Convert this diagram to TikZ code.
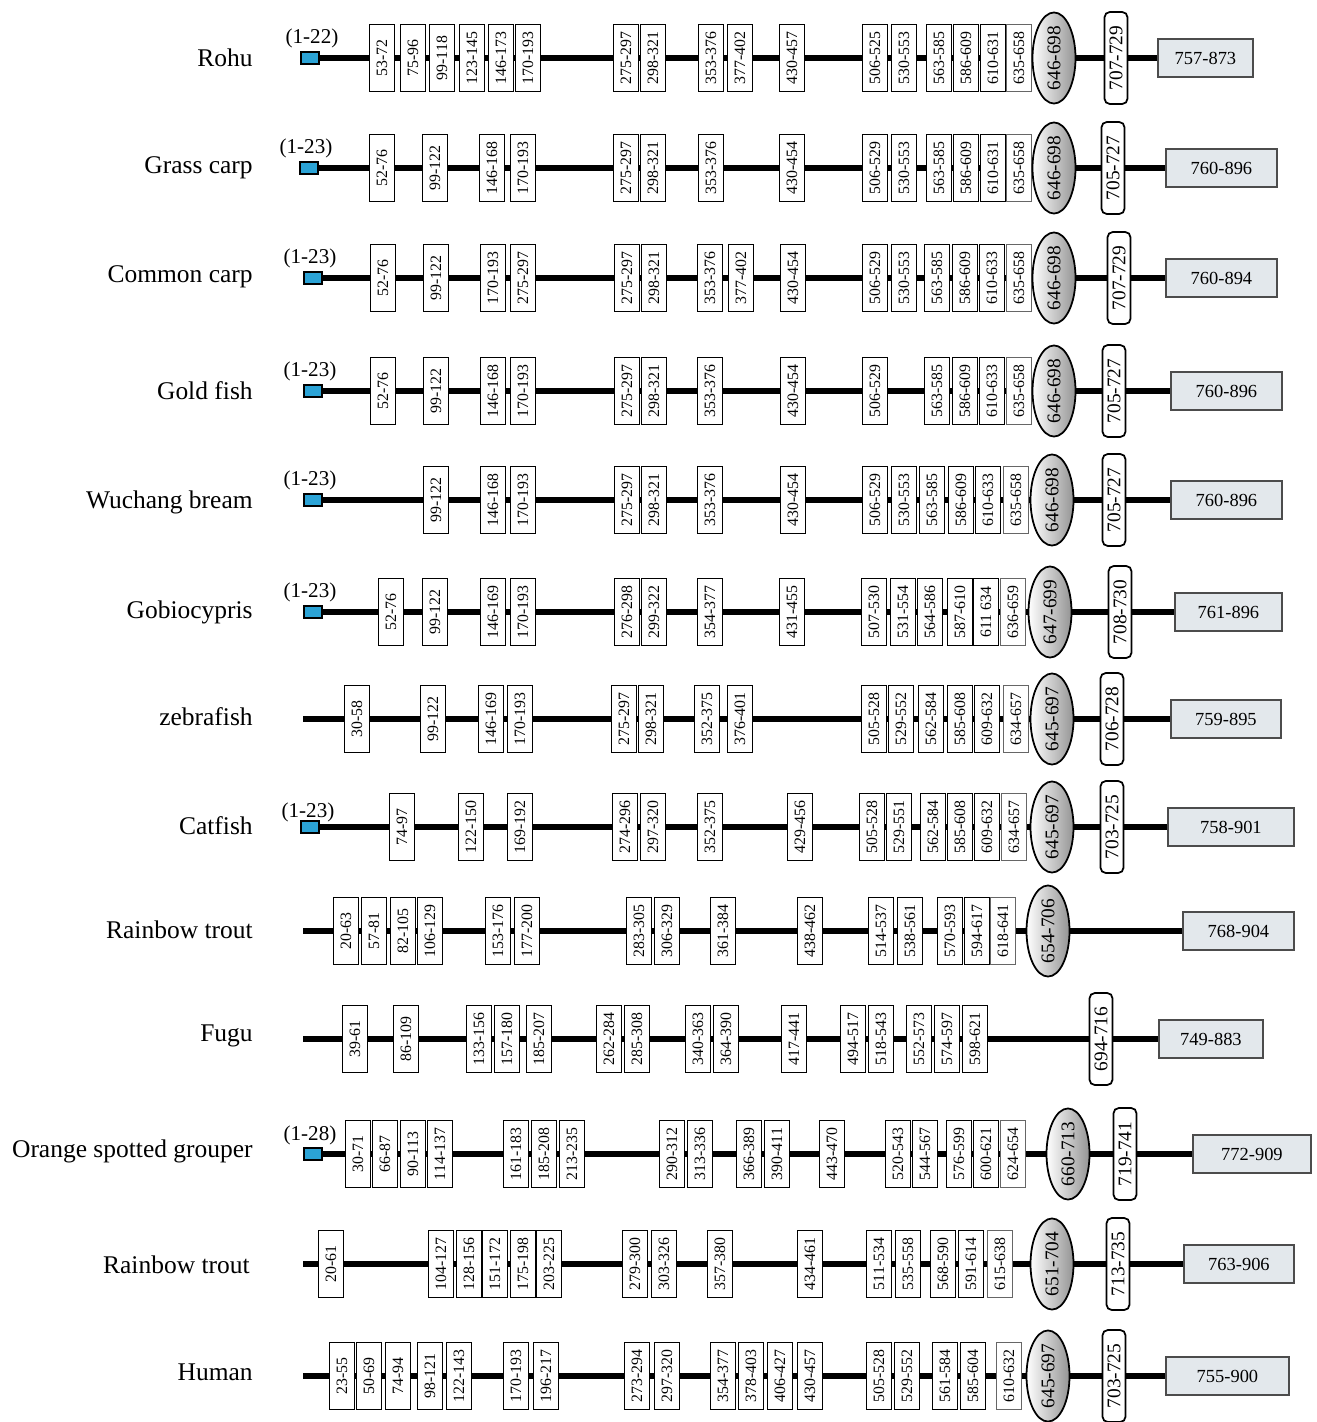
\documentclass[tikz,border=0pt]{standalone}
\usepackage{fontspec}
\setmainfont{Liberation Serif}
\usetikzlibrary{shapes.geometric,backgrounds}
\definecolor{sigblue}{HTML}{2BA3D6}
\definecolor{tailgray}{HTML}{E3E8EC}

\begin{document}
\begin{tikzpicture}[x=0.02cm, y=-0.02cm,
  species/.style={anchor=east, font=\fontsize{14.5}{16}\selectfont, inner sep=0pt},
  sigpep/.style={draw, fill=sigblue, line width=1pt, minimum width=0.36cm,
               minimum height=0.24cm, inner sep=0pt},
  pep/.style={font=\fontsize{12}{14}\selectfont, inner sep=0pt},
  seg/.style={draw, fill=white, line width=1.1pt, rotate=90, minimum width=1.34cm,
               minimum height=0.5cm, inner sep=0pt, font=\fontsize{9}{10}\selectfont},
  lastseg/.style={seg, draw=black!60, line width=0.8pt},
  tm/.style={ellipse, draw, line width=1pt, rotate=90, minimum width=1.8cm,
               minimum height=0.86cm, inner sep=0pt, left color=white,
               middle color=black!8, right color=black!42,
               font=\fontsize{11}{12}\selectfont},
  cyto/.style={draw, fill=white, rounded corners=3pt, line width=1pt, rotate=90,
               minimum width=1.84cm, minimum height=0.46cm, inner sep=0pt,
               font=\fontsize{11}{12}\selectfont},
  ctail/.style={draw=black!70, fill=tailgray, line width=1.1pt, anchor=west,
               minimum height=0.76cm, inner sep=0pt, font=\fontsize{10.5}{12}\selectfont},
  bb/.style={line width=3.3pt},
]
\useasboundingbox (0,0) rectangle (1317,1422);

% Rohu
\node[species] (n1) at (253,58) {Rohu};
\node[sigpep] (p1) at (310,58) {};
\node[pep] (t1) at (312,38) {(1-22)};
\foreach \x/\t [count=\k] in {382/53-72, 413/75-96, 442/99-118, 472/123-145,
    501/146-173, 528/170-193, 626/275-297, 653/298-321, 711/353-376, 740/377-402,
    792/430-457, 875/506-525, 904/530-553, 939/563-585, 966/586-609, 993/610-631}
  \node[seg] (s1-\k) at (\x,58) {\t};
\node[lastseg] (l1) at (1019,58) {635-658};
\node[tm] (e1) at (1054,58) {646-698};
\node[cyto] (c1) at (1116,58) {707-729};
\node[ctail, minimum width=1.9cm] (g1) at (1157,58) {757-873};

% Grass carp
\node[species] (n2) at (253,168) {Grass carp};
\node[sigpep] (p2) at (309,168) {};
\node[pep] (t2) at (306,148) {(1-23)};
\foreach \x/\t [count=\k] in {382/52-76, 435/99-122, 492/146-168, 523/170-193,
    626/275-297, 653/298-321, 711/353-376, 792/430-454, 875/506-529, 904/530-553,
    939/563-585, 966/586-609, 993/610-631}
  \node[seg] (s2-\k) at (\x,168) {\t};
\node[lastseg] (l2) at (1019,168) {635-658};
\node[tm] (e2) at (1054,168) {646-698};
\node[cyto] (c2) at (1113,168) {705-727};
\node[ctail, minimum width=2.22cm] (g2) at (1165,168) {760-896};

% Common carp
\node[species] (n3) at (253,277) {Common carp};
\node[sigpep] (p3) at (313,278) {};
\node[pep] (t3) at (310,258) {(1-23)};
\foreach \x/\t [count=\k] in {383/52-76, 436/99-122, 493/170-193, 523/275-297,
    627/275-297, 654/298-321, 710/353-376, 741/377-402, 793/430-454, 875/506-529,
    904/530-553, 937/563-585, 965/586-609, 992/610-633}
  \node[seg] (s3-\k) at (\x,278) {\t};
\node[lastseg] (l3) at (1019,278) {635-658};
\node[tm] (e3) at (1054,278) {646-698};
\node[cyto] (c3) at (1119,278) {707-729};
\node[ctail, minimum width=2.22cm] (g3) at (1165,278) {760-894};

% Gold fish
\node[species] (n4) at (253,391) {Gold fish};
\node[sigpep] (p4) at (313,391) {};
\node[pep] (t4) at (310,371) {(1-23)};
\foreach \x/\t [count=\k] in {383/52-76, 436/99-122, 493/146-168, 523/170-193,
    627/275-297, 654/298-321, 710/353-376, 793/430-454, 875/506-529,
    937/563-585, 965/586-609, 992/610-633}
  \node[seg] (s4-\k) at (\x,391) {\t};
\node[lastseg] (l4) at (1019,391) {635-658};
\node[tm] (e4) at (1054,391) {646-698};
\node[cyto] (c4) at (1114,391) {705-727};
\node[ctail, minimum width=2.22cm] (g4) at (1170,391) {760-896};

% Wuchang bream
\node[species] (n5) at (253,502) {Wuchang bream};
\node[sigpep] (p5) at (313,500) {};
\node[pep] (t5) at (310,480) {(1-23)};
\foreach \x/\t [count=\k] in {436/99-122, 493/146-168, 523/170-193,
    627/275-297, 654/298-321, 710/353-376, 793/430-454, 875/506-529, 904/530-553,
    932/563-585, 961/586-609, 988/610-633}
  \node[seg] (s5-\k) at (\x,500) {\t};
\node[lastseg] (l5) at (1016,500) {635-658};
\node[tm] (e5) at (1052,500) {646-698};
\node[cyto] (c5) at (1114,500) {705-727};
\node[ctail, minimum width=2.22cm] (g5) at (1170,500) {760-896};

% Gobiocypris
\node[species] (n6) at (253,612) {Gobiocypris};
\node[sigpep] (p6) at (313,612) {};
\node[pep] (t6) at (310,592) {(1-23)};
\foreach \x/\t [count=\k] in {391/52-76, 435/99-122, 493/146-169, 523/170-193,
    627/276-298, 654/299-322, 710/354-377, 792/431-455, 874/507-530, 903/531-554,
    930/564-586, 960/587-610, 986/611 634}
  \node[seg] (s6-\k) at (\x,612) {\t};
\node[lastseg] (l6) at (1013,612) {636-659};
\node[tm] (e6) at (1050,612) {647-699};
\node[cyto] (c6) at (1120,612) {708-730};
\node[ctail, minimum width=2.14cm] (g6) at (1174,612) {761-896};

% zebrafish
\node[species] (n7) at (253,717) {zebrafish};
\coordinate (p7) at (303,719);
\foreach \x/\t [count=\k] in {357/30-58, 433/99-122, 491/146-169, 520/170-193,
    624/275-297, 651/298-321, 707/352-375, 740/376-401, 874/505-528, 901/529-552,
    931/562-584, 960/585-608, 987/609-632}
  \node[seg] (s7-\k) at (\x,719) {\t};
\node[lastseg] (l7) at (1016,719) {634-657};
\node[tm] (e7) at (1052,719) {645-697};
\node[cyto] (c7) at (1112,719) {706-728};
\node[ctail, minimum width=2.2cm] (g7) at (1170,719) {759-895};

% Catfish
\node[species] (n8) at (253,826) {Catfish};
\node[sigpep] (p8) at (310,827) {};
\node[pep] (t8) at (308,812) {(1-23)};
\foreach \x/\t [count=\k] in {402/74-97, 471/122-150, 520/169-192,
    625/274-296, 653/297-320, 710/352-375, 800/429-456, 872/505-528, 899/529-551,
    933/562-584, 960/585-608, 987/609-632}
  \node[seg] (s8-\k) at (\x,827) {\t};
\node[lastseg] (l8) at (1014,827) {634-657};
\node[tm] (e8) at (1052,827) {645-697};
\node[cyto] (c8) at (1112,827) {703-725};
\node[ctail, minimum width=2.52cm] (g8) at (1167,827) {758-901};

% Rainbow trout
\node[species] (n9) at (253,930) {Rainbow trout};
\coordinate (p9) at (303,931);
\foreach \x/\t [count=\k] in {346/20-63, 374/57-81, 403/82-105, 430/106-129,
    498/153-176, 527/177-200, 639/283-305, 667/306-329, 723/361-384, 810/438-462,
    881/514-537, 910/538-561, 950/570-593, 977/594-617}
  \node[seg] (s9-\k) at (\x,931) {\t};
\node[lastseg] (l9) at (1003,931) {618-641};
\node[tm] (e9) at (1048,931) {654-706};
\node[ctail, minimum width=2.22cm] (g9) at (1182,931) {768-904};

% Fugu
\node[species] (n10) at (253,1036) {Fugu};
\coordinate (p10) at (303,1039);
\foreach \x/\t [count=\k] in {355/39-61, 406/86-109, 479/133-156, 507/157-180,
    539/185-207, 609/262-284, 637/285-308, 698/340-363, 726/364-390, 794/417-441,
    853/494-517, 881/518-543, 919/552-573, 947/574-597, 975/598-621}
  \node[seg] (s10-\k) at (\x,1039) {\t};
\node[cyto] (c10) at (1101,1039) {694-716};
\node[ctail, minimum width=2.08cm] (g10) at (1158,1039) {749-883};

% Orange spotted grouper
\node[species] (n11) at (253,1151) {Orange spotted grouper};
\node[sigpep] (p11) at (313,1154) {};
\node[pep] (t11) at (310,1135) {(1-28)};
\foreach \x/\t [count=\k] in {358/30-71, 385/66-87, 413/90-113, 440/114-137,
    516/161-183, 544/185-208, 572/213-235, 672/290-312, 700/313-336, 749/366-389,
    777/390-411, 832/443-470, 898/520-543, 925/544-567, 959/576-599, 986/600-621}
  \node[seg] (s11-\k) at (\x,1154) {\t};
\node[lastseg] (l11) at (1013,1154) {624-654};
\node[tm] (e11) at (1068,1154) {660-713};
\node[cyto] (c11) at (1125,1154) {719-741};
\node[ctail, minimum width=2.36cm] (g11) at (1192,1154) {772-909};

% Rainbow trout
\node[species] (n12) at (250,1265) {Rainbow trout};
\coordinate (p12) at (303,1264);
\foreach \x/\t [count=\k] in {331/20-61, 441/104-127, 469/128-156, 495/151-172,
    523/175-198, 549/203-225, 635/279-300, 664/303-326, 720/357-380, 810/434-461,
    879/511-534, 908/535-558, 943/568-590, 971/591-614}
  \node[seg] (s12-\k) at (\x,1264) {\t};
\node[lastseg] (l12) at (1000,1264) {615-638};
\node[tm] (e12) at (1052,1264) {651-704};
\node[cyto] (c12) at (1118,1264) {713-735};
\node[ctail, minimum width=2.2cm] (g12) at (1183,1264) {763-906};

% Human
\node[species] (n13) at (253,1372) {Human};
\coordinate (p13) at (303,1376);
\foreach \x/\t [count=\k] in {342/23-55, 369/50-69, 398/74-94, 430/98-121,
    459/122-143, 516/170-193, 546/196-217, 637/273-294, 667/297-320, 723/354-377,
    751/378-403, 780/406-427, 810/430-457, 879/505-528, 907/529-552, 945/561-584,
    973/585-604}
  \node[seg] (s13-\k) at (\x,1376) {\t};
\node[lastseg] (l13) at (1009,1376) {610-632};
\node[tm] (e13) at (1048,1376) {645-697};
\node[cyto] (c13) at (1114,1376) {703-725};
\node[ctail, minimum width=2.46cm] (g13) at (1165,1376) {755-900};

% Backbone lines behind the domains
\begin{scope}[on background layer]
  \foreach \r in {1,...,6,8,11}
    \draw[bb] (p\r.east) -- (g\r.west);
  \foreach \r in {7,9,10,12,13}
    \draw[bb] (p\r) -- (g\r.west);
\end{scope}

\end{tikzpicture}
\end{document}
